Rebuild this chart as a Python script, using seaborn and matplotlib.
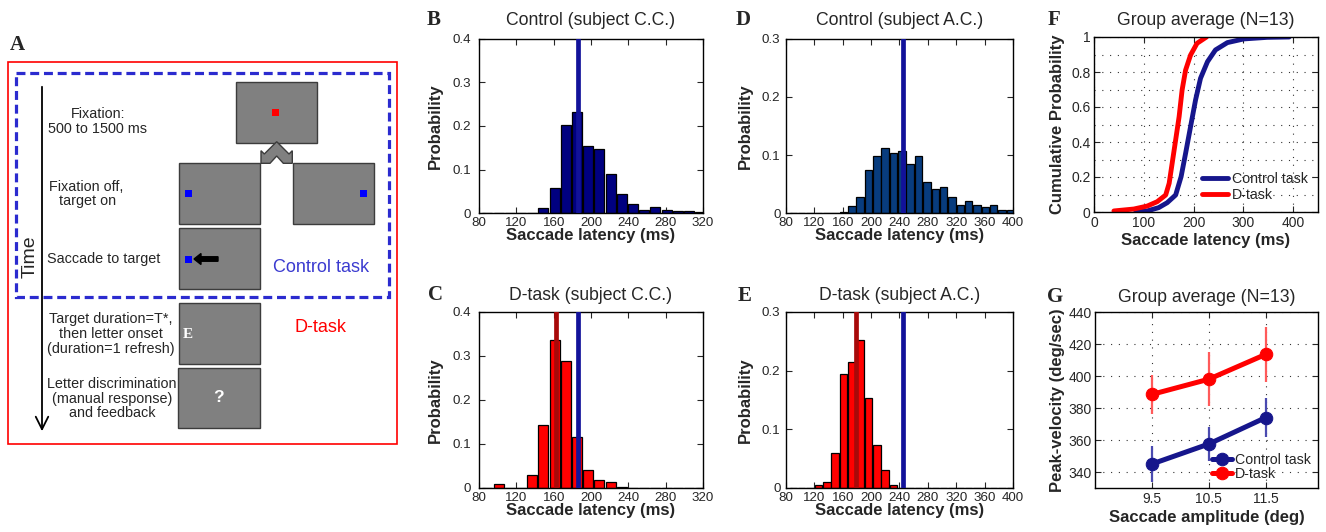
import matplotlib
matplotlib.use("agg")
import matplotlib.pyplot as plt
from matplotlib.patches import Rectangle, Polygon
from matplotlib.ticker import FuncFormatter
import numpy as np
import seaborn as sns

# ---- data ----
# subject C.C. latency histograms (bin centres in ms, probability per bin)
cc_bins = [89, 101, 113, 125, 137, 149, 161, 173, 185, 197, 209, 221, 233, 245,
           257, 269, 281, 293, 305, 317]
cc_control = [0, 0, 0, 0, 0, 0.012, 0.057, 0.202, 0.232, 0.154, 0.148, 0.090,
              0.043, 0.021, 0.006, 0.014, 0.006, 0.005, 0.004, 0.003]
cc_dtask = [0, 0.008, 0, 0, 0.030, 0.143, 0.337, 0.289, 0.117, 0.040, 0.019,
            0.014, 0.003, 0, 0, 0, 0, 0, 0, 0]
cc_mean_control = 186.6
cc_mean_dtask = 163.0

# subject A.C.
ac_bins = [90.4, 102.2, 113.9, 125.7, 137.5, 149.2, 161.0, 172.8, 184.5, 196.3,
           208.0, 219.8, 231.6, 243.4, 255.1, 266.9, 278.6, 290.4, 302.2, 313.9,
           325.7, 337.4, 349.2, 361.0, 372.7, 384.5, 396.3]
ac_control = [0, 0, 0, 0, 0, 0, 0.002, 0.012, 0.028, 0.075, 0.099, 0.112, 0.104,
              0.107, 0.084, 0.099, 0.054, 0.042, 0.044, 0.028, 0.014, 0.020,
              0.014, 0.011, 0.013, 0.006, 0.005]
ac_dtask = [0, 0, 0, 0.005, 0.010, 0.060, 0.195, 0.214, 0.253, 0.154, 0.074,
            0.030, 0.005, 0, 0, 0, 0, 0, 0, 0, 0, 0, 0, 0, 0, 0, 0]
ac_mean_control = 245.0
ac_mean_dtask = 178.0

# group cumulative distributions
cdf_control_ms = [84, 107, 130, 147, 164, 175, 184, 194, 204, 214, 228, 244, 268,
                  301, 348, 392]
cdf_control_p = [0.0, 0.006, 0.025, 0.053, 0.097, 0.202, 0.335, 0.488, 0.64,
                 0.764, 0.859, 0.926, 0.968, 0.989, 0.998, 1.0]
cdf_dtask_ms = [40, 80, 107, 127, 144, 151, 157, 164, 171, 177, 184, 194, 207, 226]
cdf_dtask_p = [0.006, 0.017, 0.034, 0.059, 0.097, 0.164, 0.278, 0.411, 0.545,
               0.697, 0.811, 0.897, 0.964, 1.0]

# group peak velocity vs amplitude
amplitude = [9.5, 10.5, 11.5]
pv_control = [345, 357.5, 374]
pv_control_err = [11, 10.5, 12]
pv_dtask = [388.5, 398, 413.5]
pv_dtask_err = [12, 17, 17]

NAVY = "#16168c"
VLINE_BLUE = "#12129a"
VLINE_RED = "#a80a0a"
RED = "#ff0000"

W, H = 1326, 532
sns.set_style("ticks")
plt.rcParams["font.family"] = ["Liberation Sans", "DejaVu Sans"]
SERIF = ["Liberation Serif", "DejaVu Serif"]

fig = plt.figure(figsize=(W / 100, H / 100), dpi=100)


def px_axes(x0, y0, x1, y1):
    return fig.add_axes([x0 / W, 1 - y1 / H, (x1 - x0) / W, (y1 - y0) / H])


def letter(x, y, s):
    fig.text(x / W, 1 - y / H, s, fontsize=15, fontweight="bold", family=SERIF,
             va="baseline", ha="left")


fmt = FuncFormatter(lambda v, _: f"{v:g}")


def style_axes(ax, ypad, size):
    for sp in ax.spines.values():
        sp.set_linewidth(1.0)
        sp.set_color("black")
    ax.tick_params(direction="in", top=True, right=True, length=4, width=0.8,
                   labelsize=size)
    ax.tick_params(axis="x", pad=3)
    ax.tick_params(axis="y", pad=ypad)
    ax.yaxis.set_major_formatter(fmt)


def hist_panel(ax, bins, probs, color, lines, title, ymax, yticks, xmax, xticks,
               title_pad, ylab_x, ypad):
    sns.barplot(x=bins, y=probs, native_scale=True, orient="x", width=0.9,
                color=color, saturation=1, edgecolor="black", linewidth=0.9,
                errorbar=None, ax=ax)
    for xv, c in lines:
        ax.axvline(xv, color=c, lw=3.4, zorder=5)
    ax.set_xlim(80, xmax)
    ax.set_ylim(0, ymax)
    ax.set_xticks(xticks)
    ax.set_yticks(yticks)
    style_axes(ax, ypad, 9.6)
    ax.set_title(title, fontsize=12.7, pad=title_pad)
    ax.set_xlabel("Saccade latency (ms)", fontsize=12, fontweight="bold")
    ax.set_ylabel("Probability", fontsize=12, fontweight="bold")
    ax.xaxis.set_label_coords(0.5, -0.085)
    ax.yaxis.set_label_coords(ylab_x, 0.5)


# ---- panel A: task schematic ----
axA = fig.add_axes([0, 0, 420 / W, 1])
axA.set_xlim(0, 420)
axA.set_ylim(H, 0)
axA.axis("off")
axA.add_patch(Rectangle((8, 62), 389, 382, fill=False, ec=RED, lw=1.2))
axA.add_patch(Rectangle((16, 73), 373, 224, fill=False, ec="#2b2bcf", lw=2.3,
                        ls=(0, (2.8, 1.5))))
axA.annotate("", xy=(42, 434), xytext=(42, 84),
             arrowprops=dict(arrowstyle="->,head_length=0.9,head_width=0.45",
                             lw=1.3, color="black"))
axA.text(30, 257, "Time", rotation=90, fontsize=14, ha="center", va="center")

steps = [
    ("Fixation:\n500 to 1500 ms", 98, 121.5),
    ("Fixation off,\n target on", 86, 194),
    ("Saccade to target", 104, 259),
    ("Target duration=T*,\nthen letter onset\n(duration=1 refresh)", 111, 334),
    ("Letter discrimination\n(manual response)\nand feedback", 112, 398.5),
]
for s, x, y in steps:
    axA.text(x, y, s, fontsize=10.4, ha="center", va="center",
             multialignment="center", linespacing=1.08)

screens = [(236, 82, 317, 143), (179, 163, 260, 224), (293, 163, 374, 224),
           (179, 228, 260, 289), (179, 303, 260, 364), (178, 368, 260, 428)]
for x0, y0, x1, y1 in screens:
    axA.add_patch(Rectangle((x0, y0), x1 - x0, y1 - y0, fc="#808080",
                            ec="#3c3c3c", lw=1))
for cx, cy, c in [(275, 112, RED), (188, 193, "#0000ff"), (363, 193, "#0000ff"),
                  (188, 259, "#0000ff")]:
    axA.add_patch(Rectangle((cx - 3.5, cy - 3.5), 7, 7, fc=c, ec="none"))
axA.arrow(218, 259, -24, 0, width=4.5, head_width=11, head_length=7,
          length_includes_head=True, color="black")
axA.add_patch(Polygon([(261, 163.3), (261, 150.7), (264.3, 154), (276.7, 141.7),
                       (289, 154), (292.3, 150.7), (292.3, 163.3), (283.3, 163.3),
                       (276.7, 156), (270, 163.3)], closed=True, fc="#808080",
                      ec="#3c3c3c", lw=1))
axA.text(188, 335, "E", color="white", fontsize=11, fontweight="bold",
         family=SERIF, ha="center", va="center")
axA.text(218, 398, "?", color="white", fontsize=12.5, fontweight="bold",
         ha="center", va="center")
axA.text(321, 267, "Control task", color="#3b3bd0", fontsize=13, ha="center",
         va="center")
axA.text(320, 327, "D-task", color=RED, fontsize=13, ha="center", va="center")
letter(10, 50, "A")

# ---- panels B-E: histograms ----
cc_ticks = [80, 120, 160, 200, 240, 280, 320]
ac_ticks = [80, 120, 160, 200, 240, 280, 320, 360, 400]

axB = px_axes(479, 39, 703, 213)
hist_panel(axB, cc_bins, cc_control, "#000080", [(cc_mean_control, VLINE_BLUE)],
           "Control (subject C.C.)", 0.4, [0, 0.1, 0.2, 0.3, 0.4], 320, cc_ticks,
           10, -0.161, 6)
letter(427, 25, "B")

axC = px_axes(479, 312, 703, 488)
hist_panel(axC, cc_bins, cc_dtask, RED,
           [(cc_mean_dtask, VLINE_RED), (cc_mean_control, VLINE_BLUE)],
           "D-task (subject C.C.)", 0.4, [0, 0.1, 0.2, 0.3, 0.4], 320, cc_ticks,
           8.3, -0.161, 6)
letter(428, 300, "C")

axD = px_axes(786, 39, 1013, 213)
hist_panel(axD, ac_bins, ac_control, "#083c7e", [(ac_mean_control, VLINE_BLUE)],
           "Control (subject A.C.)", 0.3, [0, 0.1, 0.2, 0.3], 400, ac_ticks,
           10, -0.145, 4)
letter(736, 25, "D")

axE = px_axes(786, 312, 1013, 488)
hist_panel(axE, ac_bins, ac_dtask, RED,
           [(ac_mean_dtask, VLINE_RED), (ac_mean_control, VLINE_BLUE)],
           "D-task (subject A.C.)", 0.3, [0, 0.1, 0.2, 0.3], 400, ac_ticks,
           8.3, -0.145, 4)
letter(738, 301, "E")

grid_kw = dict(color="black", lw=0.8, ls=(0, (1, 6)), alpha=0.8)

# ---- panel F: cumulative distributions ----
axF = px_axes(1094, 37, 1318, 212)
sns.lineplot(x=cdf_control_ms, y=cdf_control_p, color=NAVY, lw=3.5, sort=False,
             label="Control task", ax=axF)
sns.lineplot(x=cdf_dtask_ms, y=cdf_dtask_p, color=RED, lw=3.5, sort=False,
             label="D-task", ax=axF)
axF.set_xlim(0, 450)
axF.set_ylim(0, 1)
axF.set_xticks([0, 100, 200, 300, 400])
axF.set_yticks([0, 0.2, 0.4, 0.6, 0.8, 1])
axF.set_yticks([0.1, 0.3, 0.5, 0.7, 0.9], minor=True)
style_axes(axF, 2.5, 10)
axF.tick_params(which="minor", length=0)
axF.grid(True, which="major", **grid_kw)
axF.yaxis.grid(True, which="minor", **grid_kw)
axF.set_axisbelow(True)
axF.set_title("Group average (N=13)", fontsize=12.7, pad=8.6)
axF.set_xlabel("Saccade latency (ms)", fontsize=12, fontweight="bold")
axF.set_ylabel("Cumulative Probability", fontsize=12, fontweight="bold")
axF.xaxis.set_label_coords(0.5, -0.12)
axF.yaxis.set_label_coords(-0.129, 0.5)
axF.legend(loc="lower right", frameon=False, fontsize=10.2, handlelength=1.8,
           handletextpad=0.3, labelspacing=0.15, borderaxespad=0.3)
letter(1048, 25, "F")

# ---- panel G: peak velocity ----
axG = px_axes(1095, 312, 1318, 488)
axG.errorbar(amplitude, pv_control, yerr=pv_control_err, fmt="none",
             ecolor="#4a4ab0", elinewidth=1.6, capsize=0, zorder=2)
axG.errorbar(amplitude, pv_dtask, yerr=pv_dtask_err, fmt="none",
             ecolor="#ff5a5a", elinewidth=1.6, capsize=0, zorder=2)
sns.lineplot(x=amplitude, y=pv_control, color=NAVY, lw=3.6, marker="o",
             markersize=9, markeredgecolor=NAVY, label="Control task", ax=axG,
             zorder=3)
sns.lineplot(x=amplitude, y=pv_dtask, color=RED, lw=3.6, marker="o",
             markersize=9, markeredgecolor=RED, label="D-task", ax=axG, zorder=3)
axG.set_xlim(8.5, 12.42)
axG.set_ylim(330, 440)
axG.set_xticks(amplitude)
axG.set_yticks([340, 360, 380, 400, 420, 440])
style_axes(axG, 2.5, 10)
axG.xaxis.set_major_formatter(fmt)
axG.grid(True, **grid_kw)
axG.set_axisbelow(True)
axG.set_title("Group average (N=13)", fontsize=12.7, pad=7.2)
axG.set_xlabel("Saccade amplitude (deg)", fontsize=12, fontweight="bold")
axG.set_ylabel("Peak-velocity (deg/sec)", fontsize=12, fontweight="bold")
axG.xaxis.set_label_coords(0.5, -0.125)
axG.yaxis.set_label_coords(-0.135, 0.5)
axG.legend(loc="lower right", frameon=False, fontsize=10.2, handlelength=1.4,
           handletextpad=0.2, labelspacing=0.0, borderaxespad=0.1)
letter(1047, 302, "G")

fig.savefig("out.png", dpi=100)
